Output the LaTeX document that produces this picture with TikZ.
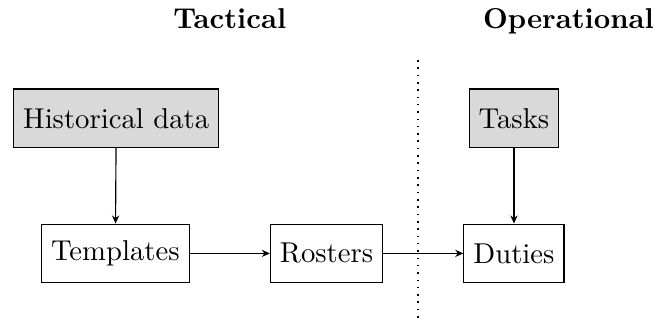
\documentclass[tikz,border=0pt]{standalone}
\usetikzlibrary{arrows.meta}
\begin{document}
\begin{tikzpicture}[x=1pt,y=1pt,
  box/.style={draw, minimum height=20.4pt, inner sep=3.33pt},
  src/.style={box, fill=gray!30},
  flow/.style={-{Stealth[length=2.8pt,width=2.5pt,inset=0.9pt]}},
  hdr/.style={font=\bfseries, anchor=base}]
\useasboundingbox (0,0) rectangle (229.3,112.5);
\node[hdr] (tac) at (80.1,102.5) {Tactical};
\node[hdr] (ope) at (198.1,102.5) {Operational};
\node[src] (hist) at (40.5,71.3) {Historical data};
\node[src] (tasks) at (179.1,71.3) {Tasks};
\node[box] (tmpl) at (40.2,24.2) {Templates};
\node[box] (rost) at (113.8,24.2) {Rosters};
\node[box] (duty) at (179.1,24.2) {Duties};
\coordinate (dtop) at (145.7,91.6);
\coordinate (dbot) at (145.7,0.8);
\draw[dotted, line width=0.55pt] (dtop) -- (dbot);
\draw[flow] (hist) -- (tmpl);
\draw[flow] (tasks) -- (duty);
\draw[flow] (tmpl) -- (rost);
\draw[flow] (rost) -- (duty);
\end{tikzpicture}
\end{document}
